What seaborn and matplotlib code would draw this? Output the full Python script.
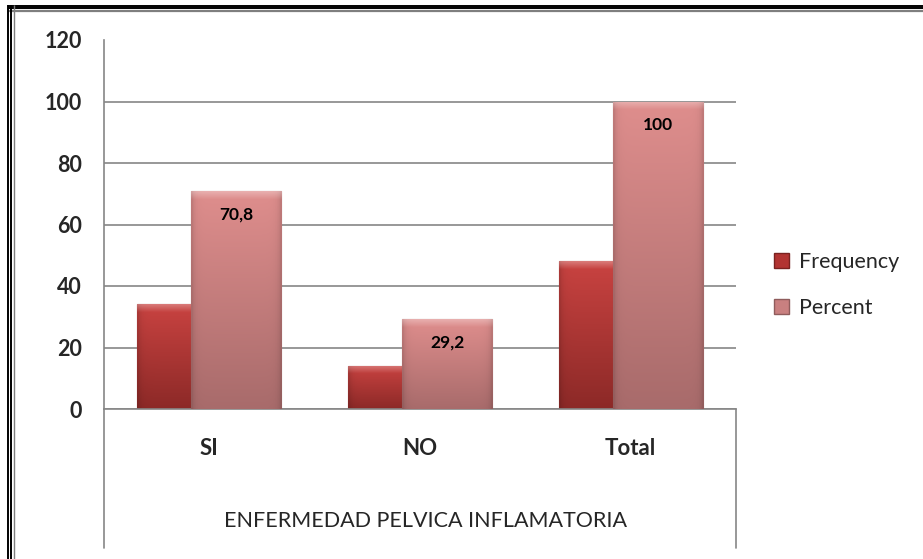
import numpy as np
import pandas as pd
import matplotlib
matplotlib.use("Agg")
import matplotlib.pyplot as plt
import seaborn as sns
from matplotlib.lines import Line2D
from matplotlib.patches import Patch
from matplotlib.colors import to_rgb

# Datos del grafico
categories = ["SI", "NO", "Total"]
frequency = [34, 14, 48]
percent = [70.8, 29.2, 100]
percent_labels = ["70,8", "29,2", "100"]
series_names = ["Frequency", "Percent"]
x_title = "ENFERMEDAD PELVICA INFLAMATORIA"

df = pd.DataFrame({
    "categoria": categories * 2,
    "serie": [series_names[0]] * len(categories) + [series_names[1]] * len(categories),
    "valor": frequency + percent,
})

sns.set_style("white")
plt.rcParams["font.family"] = ["Lato", "DejaVu Sans"]

W, H = 923, 559
colors = {"Frequency": "#b23432", "Percent": "#c98080"}
grads = {"Frequency": ("#c94341", "#8c2927"), "Percent": ("#df8e8d", "#a86b6b")}
edges = {"Frequency": "#7a2220", "Percent": "#8f5c5c"}
grid_col = "#868686"

fig = plt.figure(figsize=(W / 100, H / 100), dpi=100)
ax = fig.add_axes([104 / W, 1 - 409 / H, (736 - 104) / W, (409 - 40) / H])

sns.barplot(data=df, x="categoria", y="valor", hue="serie", palette=colors,
            width=0.684, dodge=True, saturation=1, legend=False, ax=ax)

ax.set_ylim(0, 120)
ax.set_xlim(-0.5, len(categories) - 0.5)


def bar_image(top, bottom, y0, y1, n=300):
    # gradiente vertical con bisel arriba y bordes laterales oscuros
    t = np.array(to_rgb(top))
    b = np.array(to_rgb(bottom))
    v = np.linspace(0, 1, n)[:, None, None]
    img = t * (1 - v) + b * v
    img = np.repeat(img, 40, axis=1)
    h = np.linspace(0, 1, 40)
    side = 1 - 0.13 * (np.exp(-h / 0.035) + np.exp(-(1 - h) / 0.035))
    img = img * side[None, :, None]
    depth = (y1 - y0) * np.linspace(0, 1, n)
    hl = np.clip(1 - depth / 2.6, 0, 1)[:, None, None] * 0.3
    img = img * (1 - hl) + hl
    return np.clip(img, 0, 1)


overlap = 1.25
for k, (name, cont) in enumerate(zip(series_names, ax.containers)):
    for i, bar in enumerate(cont):
        w = bar.get_width()
        if k == 1:
            bar.set_x(bar.get_x() + w - w * overlap)
        bar.set_width(w * overlap)
        bar.set_zorder(2 + 2 * k)
        bar.set_edgecolor(edges[name])
        bar.set_linewidth(0.8)
        x0, y0 = bar.get_x(), bar.get_y()
        x1, y1 = x0 + bar.get_width(), y0 + bar.get_height()
        im = ax.imshow(bar_image(*grads[name], y0, y1), extent=[x0, x1, y0, y1],
                       aspect="auto", origin="upper", zorder=2.5 + 2 * k)
        im.set_clip_path(bar)
        if k == 1:
            ax.text(x0 + bar.get_width() / 2, y1 - 7.5, percent_labels[i],
                    ha="center", va="center", fontsize=12.5, fontweight="bold",
                    color="black", zorder=10)

ax.set_ylim(0, 120)
ax.set_xlim(-0.5, len(categories) - 0.5)
ax.set_yticks(range(0, 121, 20))
ax.yaxis.grid(True, color=grid_col, lw=1.2)
ax.get_ygridlines()[-1].set_visible(False)
ax.set_axisbelow(True)
for s in ["top", "right"]:
    ax.spines[s].set_visible(False)
for s in ["left", "bottom"]:
    ax.spines[s].set_color(grid_col)
    ax.spines[s].set_linewidth(1.2)

ax.tick_params(axis="y", length=0, pad=16, labelsize=15.5)
ax.tick_params(axis="x", length=0, pad=21, labelsize=16)
for lab in ax.get_yticklabels() + ax.get_xticklabels():
    lab.set_fontweight("bold")
ax.set_xlabel("")
ax.set_ylabel("")

fig.text(426 / W, 1 - 521 / H, x_title, ha="center", va="center", fontsize=15.5)

# caja de categorias bajo el eje
for xp in [104, 736]:
    fig.add_artist(Line2D([xp / W, xp / W], [1 - 409 / H, 1 - 548 / H],
                          transform=fig.transFigure, color=grid_col, lw=1.2))

handles = [Patch(facecolor=colors[n], edgecolor=edges[n], label=n) for n in series_names]
fig.legend(handles=handles, loc="center left", bbox_to_anchor=(755 / W, 1 - 285 / H),
           frameon=False, fontsize=15.5, handlelength=0.7, handleheight=0.7,
           labelspacing=1.22, handletextpad=0.45)

# marco doble
for yp, c, lw in [(5.5, "black", 1.4), (8, "black", 1.4), (11, "#7f7f7f", 1.6)]:
    fig.add_artist(Line2D([8 / W, 1], [1 - yp / H, 1 - yp / H],
                          transform=fig.transFigure, color=c, lw=lw,
                          solid_capstyle="butt"))
for xp, c, lw in [(8, "black", 1.4), (11, "black", 1.4), (14, "#7f7f7f", 1.0)]:
    fig.add_artist(Line2D([xp / W, xp / W], [0, 1 - 5 / H],
                          transform=fig.transFigure, color=c, lw=lw,
                          solid_capstyle="butt"))

fig.savefig("out.png", dpi=100, facecolor="white")
